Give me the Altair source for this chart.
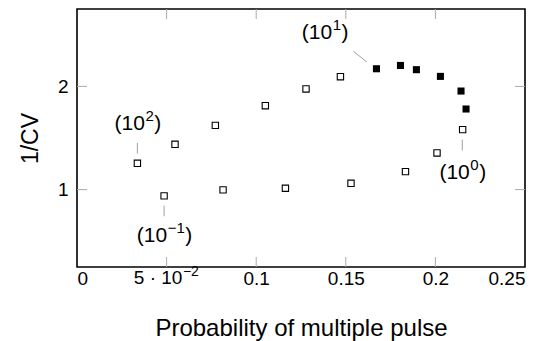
import altair as alt
import pandas as pd

# Open squares (x = probability of multiple pulse, y = 1/CV)
open_x = [0.0337, 0.0486, 0.0547, 0.0772, 0.0815, 0.1051, 0.1163, 0.1278, 0.1470, 0.1529, 0.1833, 0.2009, 0.2152]
open_y = [1.255, 0.939, 1.439, 1.622, 0.997, 1.813, 1.013, 1.975, 2.094, 1.061, 1.174, 1.355, 1.581]

# Filled squares
fill_x = [0.1671, 0.1805, 0.1894, 0.2028, 0.2143, 0.2171]
fill_y = [2.171, 2.203, 2.162, 2.097, 1.955, 1.781]

# Annotations "(10^k)": exponent and centre position
ann_exp = ["2", "−1", "1", "0"]
ann_x = [0.0337, 0.0486, 0.1382, 0.2150]
ann_y = [1.639, 0.548, 2.517, 1.162]
lead_x = [0.0337, 0.0486, 0.1543, 0.2150]
lead_y = [1.452, 0.845, 2.339, 1.484]
lead_x2 = [0.0337, 0.0486, 0.1618, 0.2150]
lead_y2 = [1.348, 0.742, 2.236, 1.380]

x_ticks = [0, 0.05, 0.1, 0.15, 0.2, 0.25]
y_ticks = [1, 2]
x_domain = [0, 0.25]
y_domain = [0.25, 2.75]

W, H = 448, 258
FONT = "Liberation Sans"
ANN_FS, SUP_FS = 21, 15
TICK_FS, TICK_SUP_FS = 19, 14

xs = alt.Scale(domain=x_domain, nice=False, zero=False)
ys = alt.Scale(domain=y_domain, nice=False, zero=False)

df_open = pd.DataFrame({"x": open_x, "y": open_y})
df_fill = pd.DataFrame({"x": fill_x, "y": fill_y})
df_ann = pd.DataFrame({"e": ann_exp, "x": ann_x, "y": ann_y})
df_lead = pd.DataFrame({"x": lead_x, "y": lead_y, "x2": lead_x2, "y2": lead_y2})
df_xt = pd.DataFrame({"v": [v for v in x_ticks if 0 < v < 0.25]})
df_yt = pd.DataFrame({"v": y_ticks})
df_sci = pd.DataFrame({"v": [0.05], "b": ["5 · 10"], "e": ["−2"]})

x_axis = alt.Axis(
    values=x_ticks,
    labelExpr="datum.value == 0.05 ? '' : format(datum.value, '~g')",
    ticks=False, grid=False, domain=False, labelPadding=2,
    labelFontSize=TICK_FS, labelFont=FONT, labelColor="black",
    title="Probability of multiple pulse", titleFontSize=24, titleFont=FONT,
    titleFontWeight="normal", titleColor="black", titlePadding=28,
)
y_axis = alt.Axis(
    values=y_ticks, format="d",
    ticks=False, grid=False, domain=False, labelPadding=9,
    labelFontSize=TICK_FS, labelFont=FONT, labelColor="black",
    title="1/CV", titleFontSize=23, titleFont=FONT, titleFontWeight="normal",
    titleColor="black", titlePadding=15,
)

base_open = alt.Chart(df_open).mark_point(
    shape="square", filled=False, stroke="black", fill="white", fillOpacity=1,
    strokeWidth=1.1, size=40, opacity=1,
).encode(
    x=alt.X("x:Q", scale=xs, axis=x_axis),
    y=alt.Y("y:Q", scale=ys, axis=y_axis),
)

pts_fill = alt.Chart(df_fill).mark_point(
    shape="square", filled=True, color="black", size=50, opacity=1,
).encode(x=alt.X("x:Q", scale=xs), y=alt.Y("y:Q", scale=ys))

leads = alt.Chart(df_lead).mark_rule(color="#a0a0a0", strokeWidth=1).encode(
    x=alt.X("x:Q", scale=xs), y=alt.Y("y:Q", scale=ys),
    x2="x2:Q", y2="y2:Q",
)

# --- annotation text pieces ---
W_BASE = (333 + 556 + 556) * ANN_FS / 1000.0   # "(10"
W_PAR = 333 * ANN_FS / 1000.0                  # ")"


def ann_layers(df, w_sup):
    total = W_BASE + w_sup + W_PAR
    dx0 = W_BASE - total / 2.0
    enc = dict(x=alt.X("x:Q", scale=xs), y=alt.Y("y:Q", scale=ys))
    common = dict(font=FONT, color="black", baseline="alphabetic")
    b = alt.Chart(df).mark_text(text="(10", align="right", dx=dx0, dy=6,
                                fontSize=ANN_FS, **common).encode(**enc)
    s = alt.Chart(df).mark_text(align="left", dx=dx0 + 0.5, dy=-3,
                                fontSize=SUP_FS, **common).encode(text="e:N", **enc)
    p = alt.Chart(df).mark_text(text=")", align="left", dx=dx0 + w_sup + 1, dy=6,
                                fontSize=ANN_FS, **common).encode(**enc)
    return [b, s, p]


df_ann1 = df_ann[df_ann["e"] != "−1"]
df_ann2 = df_ann[df_ann["e"] == "−1"]
ann1 = ann_layers(df_ann1, 556 * SUP_FS / 1000.0)
ann2 = ann_layers(df_ann2, (584 + 556) * SUP_FS / 1000.0)

# --- 5·10^-2 tick label ---
W_SB = (556 + 278 + 278 + 278 + 556 + 556) * TICK_FS / 1000.0
W_SE = (584 + 556) * TICK_SUP_FS / 1000.0
dxs = W_SB - (W_SB + W_SE) / 2.0
sci_b = alt.Chart(df_sci).mark_text(
    align="right", baseline="alphabetic", dx=dxs, font=FONT, fontSize=TICK_FS, color="black"
).encode(x=alt.X("v:Q", scale=xs), y=alt.value(H + 17), text="b:N")
sci_e = alt.Chart(df_sci).mark_text(
    align="left", baseline="alphabetic", dx=dxs + 0.5, font=FONT, fontSize=TICK_SUP_FS, color="black"
).encode(x=alt.X("v:Q", scale=xs), y=alt.value(H + 9), text="e:N")

tick_style = dict(color="#aaaaaa", strokeWidth=1)
xt_bottom = alt.Chart(df_xt).mark_rule(**tick_style).encode(
    x=alt.X("v:Q", scale=xs), y=alt.value(H), y2=alt.value(H - 10))
xt_top = alt.Chart(df_xt).mark_rule(**tick_style).encode(
    x=alt.X("v:Q", scale=xs), y=alt.value(0), y2=alt.value(10))
yt_left = alt.Chart(df_yt).mark_rule(**tick_style).encode(
    y=alt.Y("v:Q", scale=ys), x=alt.value(0), x2=alt.value(10))
yt_right = alt.Chart(df_yt).mark_rule(**tick_style).encode(
    y=alt.Y("v:Q", scale=ys), x=alt.value(W), x2=alt.value(W - 10))

chart = alt.layer(
    xt_bottom, xt_top, yt_left, yt_right, leads, base_open, pts_fill,
    *ann1, *ann2, sci_b, sci_e,
).properties(
    width=W, height=H,
    autosize=alt.AutoSizeParams(type="none"),
    padding={"left": 77, "top": 9, "right": 22, "bottom": 74},
    background="white",
).configure_view(
    stroke="black", strokeWidth=1.6,
)

chart.save("out.html", embed_options={"renderer": "svg", "actions": False})
